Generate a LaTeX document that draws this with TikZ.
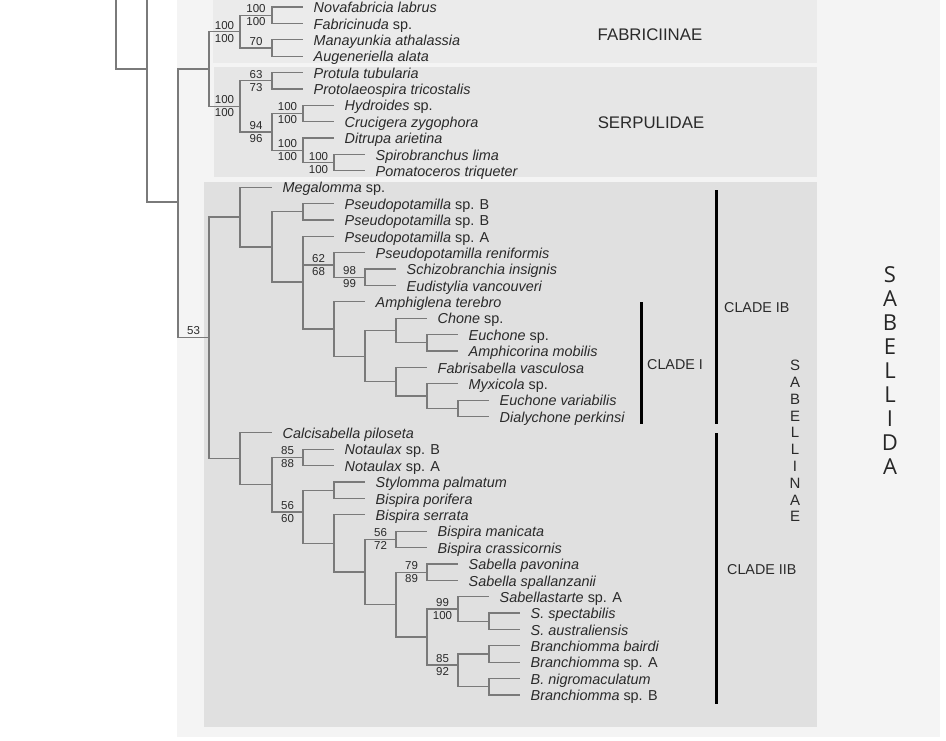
\documentclass[tikz,border=0pt]{standalone}
\usepackage{fontspec}
\setmainfont{Liberation Sans}
\newfontfamily\bigfont{Open Sans}
\definecolor{treegray}{HTML}{7A7A7A}
\definecolor{txtgray}{HTML}{2A2A2A}
\definecolor{panel}{HTML}{F4F4F4}
\definecolor{fabbox}{HTML}{EBEBEB}
\definecolor{serbox}{HTML}{E6E6E6}
\definecolor{sabbox}{HTML}{E0E0E0}
\tikzset{
  taxon/.style={anchor=west, inner xsep=10.5pt, inner ysep=0pt, text height=12.5pt, text depth=1.1pt,
    font=\fontsize{14.4}{16}\selectfont\itshape, text=txtgray},
  support/.style={inner sep=1.8pt, font=\fontsize{11.5}{12}\selectfont, text=txtgray},
  branch/.style={draw=treegray, line width=1.2pt},
  cladebar/.style={line width=3pt, black},
  group/.style={anchor=west, inner sep=0pt, font=\fontsize{14.3}{16}\selectfont, text=txtgray},
  family/.style={font=\fontsize{16.8}{18}\selectfont, text=txtgray}
}
\newcommand{\taxnode}[4]{\node[taxon] (#1) at (#2,{7+16.38*#3}) {#4};}
\newcommand{\leafedge}[2]{\draw[branch] (#1) |- (#2.west);}
\newcommand{\cladeedge}[4]{
  \draw[branch] (#1) |- (#2) node[pos=.75, above, support] (#2Above) {#3}
                             node[pos=.75, below, support] (#2Below) {#4};
}
\begin{document}
\begin{tikzpicture}[x=1pt, y=-1pt]
  \useasboundingbox (0,0) rectangle (946,740);
  \clip (0,0) rectangle (946,740);
  % Background panels
  \fill[white] (0,0) rectangle (946,740);
  \fill[panel] (177,0) rectangle (940,737);
  \fill[fabbox] (213,0) rectangle (817,63);
  \fill[serbox] (214,67) rectangle (817,177);
  \fill[sabbox] (204,182) rectangle (817,727);

  % Taxa
  \taxnode{nova}{303}{0}{Novafabricia labrus}
  \taxnode{fabn}{303}{1}{Fabricinuda \textup{sp.}}
  \taxnode{many}{303}{2}{Manayunkia athalassia}
  \taxnode{auge}{303}{3}{Augeneriella alata}
  \taxnode{prot}{303}{4}{Protula tubularia}
  \taxnode{prla}{303}{5}{Protolaeospira tricostalis}
  \taxnode{hydr}{334}{6}{Hydroides \textup{sp.}}
  \taxnode{cruc}{334}{7}{Crucigera zygophora}
  \taxnode{ditr}{334}{8}{Ditrupa arietina}
  \taxnode{spir}{365}{9}{Spirobranchus lima}
  \taxnode{poma}{365}{10}{Pomatoceros triqueter}
  \taxnode{mega}{272}{11}{Megalomma \textup{sp.}}
  \taxnode{psbOne}{334}{12}{Pseudopotamilla \textup{sp. B}}
  \taxnode{psbTwo}{334}{13}{Pseudopotamilla \textup{sp. B}}
  \taxnode{psa}{334}{14}{Pseudopotamilla \textup{sp. A}}
  \taxnode{reni}{365}{15}{Pseudopotamilla reniformis}
  \taxnode{schi}{396}{16}{Schizobranchia insignis}
  \taxnode{eudi}{396}{17}{Eudistylia vancouveri}
  \taxnode{amph}{365}{18}{Amphiglena terebro}
  \taxnode{chon}{427}{19}{Chone \textup{sp.}}
  \taxnode{euch}{458}{20}{Euchone \textup{sp.}}
  \taxnode{amco}{458}{21}{Amphicorina mobilis}
  \taxnode{fabr}{427}{22}{Fabrisabella vasculosa}
  \taxnode{myxi}{458}{23}{Myxicola \textup{sp.}}
  \taxnode{euva}{489}{24}{Euchone variabilis}
  \taxnode{dial}{489}{25}{Dialychone perkinsi}
  \taxnode{calc}{272}{26}{Calcisabella piloseta}
  \taxnode{notB}{334}{27}{Notaulax \textup{sp. B}}
  \taxnode{notA}{334}{28}{Notaulax \textup{sp. A}}
  \taxnode{styl}{365}{29}{Stylomma palmatum}
  \taxnode{bipo}{365}{30}{Bispira porifera}
  \taxnode{bise}{365}{31}{Bispira serrata}
  \taxnode{bima}{427}{32}{Bispira manicata}
  \taxnode{bicr}{427}{33}{Bispira crassicornis}
  \taxnode{sapa}{458}{34}{Sabella pavonina}
  \taxnode{sasp}{458}{35}{Sabella spallanzanii}
  \taxnode{sast}{489}{36}{Sabellastarte \textup{sp. A}}
  \taxnode{sspe}{520}{37}{S. spectabilis}
  \taxnode{saus}{520}{38}{S. australiensis}
  \taxnode{brba}{520}{39}{Branchiomma bairdi}
  \taxnode{brsA}{520}{40}{Branchiomma \textup{sp. A}}
  \taxnode{brni}{520}{41}{B. nigromaculatum}
  \taxnode{brsB}{520}{42}{Branchiomma \textup{sp. B}}

  % Internal nodes
  \coordinate (up1) at (116,-10);
  \coordinate (up2) at (147,-10);
  \coordinate (n147) at (147,69);
  \coordinate (n178) at (178,202);
  \coordinate (fs) at (209,68.9);
  \coordinate (fab) at (240,31.6);
  \coordinate (nf) at (272,15.2);
  \coordinate (ma) at (272,48);
  \coordinate (serp) at (240,106.3);
  \coordinate (pr) at (272,80.7);
  \coordinate (s2) at (272,131.9);
  \coordinate (hy) at (303,113.5);
  \coordinate (di) at (303,150.3);
  \coordinate (sp) at (334,162.6);
  \coordinate (sab) at (209,337.5);
  \coordinate (meg) at (240,217);
  \coordinate (pp) at (272,247);
  \coordinate (psb) at (303,211.8);
  \coordinate (pa) at (303,282);
  \coordinate (re) at (334,265);
  \coordinate (sc) at (365,277.3);
  \coordinate (am) at (334,329);
  \coordinate (cf) at (365,356.1);
  \coordinate (ch) at (396,330.5);
  \coordinate (ch2) at (427,342.8);
  \coordinate (fb) at (396,381.7);
  \coordinate (my) at (427,396);
  \coordinate (ev) at (458,408.3);
  \coordinate (cal) at (240,458.8);
  \coordinate (nn) at (272,484.7);
  \coordinate (no) at (303,457.5);
  \coordinate (sbs) at (303,512);
  \coordinate (st) at (334,490.2);
  \coordinate (bs) at (334,543.4);
  \coordinate (bmsp) at (365,572);
  \coordinate (bm) at (396,539.4);
  \coordinate (sp2) at (396,604.5);
  \coordinate (sa) at (427,572.1);
  \coordinate (sb) at (427,637);
  \coordinate (sas) at (458,609);
  \coordinate (ss) at (489,621.3);
  \coordinate (br) at (458,665);
  \coordinate (bb1) at (489,654);
  \coordinate (bb2) at (489,686.8);

  % Backbone
  \draw[branch] (up1) |- (n147);
  \draw[branch] (n147) -- (up2);
  \draw[branch] (n147) |- (n178);
  \cladeedge{n178}{fs}{}{}
  \cladeedge{n178}{sab}{53}{}

  % Fabriciinae and Serpulidae
  \cladeedge{fs}{fab}{100}{100}
  \cladeedge{fs}{serp}{100}{100}
  \cladeedge{fab}{nf}{100}{100}
  \cladeedge{fab}{ma}{70}{}
  \leafedge{nf}{nova} \leafedge{nf}{fabn}
  \leafedge{ma}{many} \leafedge{ma}{auge}
  \cladeedge{serp}{pr}{63}{73}
  \cladeedge{serp}{s2}{94}{96}
  \leafedge{pr}{prot} \leafedge{pr}{prla}
  \cladeedge{s2}{hy}{100}{100}
  \cladeedge{s2}{di}{100}{100}
  \leafedge{hy}{hydr} \leafedge{hy}{cruc}
  \leafedge{di}{ditr}
  \cladeedge{di}{sp}{100}{100}
  \leafedge{sp}{spir} \leafedge{sp}{poma}

  % Sabellidae, upper part
  \cladeedge{sab}{meg}{}{}
  \cladeedge{sab}{cal}{}{}
  \leafedge{meg}{mega}
  \cladeedge{meg}{pp}{}{}
  \cladeedge{pp}{psb}{}{}
  \cladeedge{pp}{pa}{}{}
  \leafedge{psb}{psbOne} \leafedge{psb}{psbTwo}
  \leafedge{pa}{psa}
  \cladeedge{pa}{re}{62}{68}
  \cladeedge{pa}{am}{}{}
  \leafedge{re}{reni}
  \cladeedge{re}{sc}{98}{99}
  \leafedge{sc}{schi} \leafedge{sc}{eudi}
  \leafedge{am}{amph}
  \cladeedge{am}{cf}{}{}
  \cladeedge{cf}{ch}{}{}
  \cladeedge{cf}{fb}{}{}
  \leafedge{ch}{chon}
  \cladeedge{ch}{ch2}{}{}
  \leafedge{ch2}{euch} \leafedge{ch2}{amco}
  \leafedge{fb}{fabr}
  \cladeedge{fb}{my}{}{}
  \leafedge{my}{myxi}
  \cladeedge{my}{ev}{}{}
  \leafedge{ev}{euva} \leafedge{ev}{dial}

  % Sabellidae, lower part
  \leafedge{cal}{calc}
  \cladeedge{cal}{nn}{}{}
  \cladeedge{nn}{no}{85}{88}
  \cladeedge{nn}{sbs}{56}{60}
  \leafedge{no}{notB} \leafedge{no}{notA}
  \cladeedge{sbs}{st}{}{}
  \cladeedge{sbs}{bs}{}{}
  \leafedge{st}{styl} \leafedge{st}{bipo}
  \leafedge{bs}{bise}
  \cladeedge{bs}{bmsp}{}{}
  \cladeedge{bmsp}{bm}{56}{72}
  \cladeedge{bmsp}{sp2}{}{}
  \leafedge{bm}{bima} \leafedge{bm}{bicr}
  \cladeedge{sp2}{sa}{79}{89}
  \cladeedge{sp2}{sb}{}{}
  \leafedge{sa}{sapa} \leafedge{sa}{sasp}
  \cladeedge{sb}{sas}{99}{100}
  \cladeedge{sb}{br}{85}{92}
  \leafedge{sas}{sast}
  \cladeedge{sas}{ss}{}{}
  \leafedge{ss}{sspe} \leafedge{ss}{saus}
  \cladeedge{br}{bb1}{}{}
  \cladeedge{br}{bb2}{}{}
  \leafedge{bb1}{brba} \leafedge{bb1}{brsA}
  \leafedge{bb2}{brni} \leafedge{bb2}{brsB}

  % Group names and bars
  \node[family] (fabname) at (650,35) {FABRICIINAE};
  \node[family] (serpname) at (651,123) {SERPULIDAE};
  \draw[cladebar] (716,190) -- (716,424);
  \draw[cladebar] (641,302) -- (641,424);
  \draw[cladebar] (716,433) -- (716,704);
  \node[group] (cladeIB) at (724,308) {CLADE IB};
  \node[group] (cladeI) at (647,365) {CLADE I};
  \node[group] (cladeIIB) at (727,570) {CLADE IIB};
  \node[align=center, inner sep=0pt, font=\fontsize{15}{16.8}\selectfont, text=txtgray]
    (sabellinae) at (795,441) {S\\A\\B\\E\\L\\L\\I\\N\\A\\E};
  \node[align=center, inner sep=0pt, font=\bigfont\fontsize{22}{24}\selectfont, text=black!85]
    (sabellida) at (890,371) {S\\A\\B\\E\\L\\L\\I\\D\\A};
\end{tikzpicture}
\end{document}
